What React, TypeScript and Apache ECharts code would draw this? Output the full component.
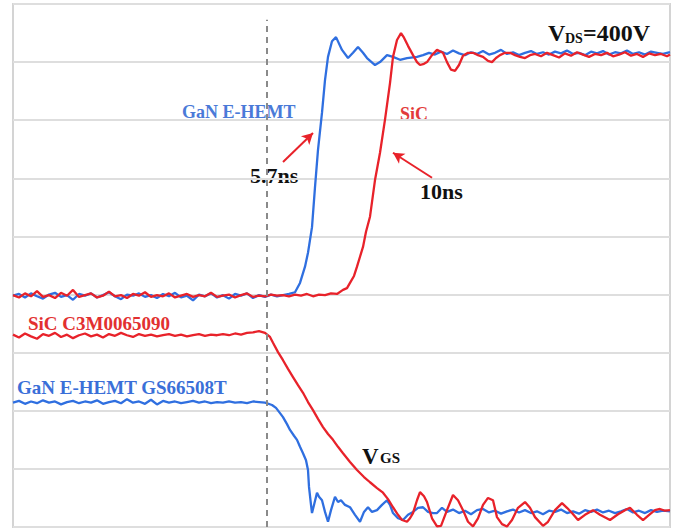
import { useEffect, useRef } from "react";
import * as echarts from "echarts";

type Pt = [number, number];

// x: time (ns), y: scope divisions (0 = bottom, 9 = top)
const X_MAX = 164.25;
const Y_DIVS = 9;
const CURSOR_T = 63.5;

// ---------- V_DS, GaN E-HEMT (blue) ----------
const ganVdsLow: Pt[] = [
  [0, 3.98], [1.5, 4.01], [3, 3.95], [4.5, 4.02], [6, 3.97], [7.5, 3.93], [9, 4.0], [10.5, 4.03],
  [12, 3.96], [13.5, 3.99], [15, 3.91], [16.5, 4.01], [18, 3.98], [19.5, 4.02], [21, 3.95], [22.5, 3.99],
  [24, 4.04], [25.5, 3.97], [27, 3.92], [28.5, 4.0], [30, 3.98], [31.5, 4.02], [33, 3.96], [34.5, 3.99],
  [36, 3.94], [37.5, 4.01], [39, 3.97], [40.5, 4.03], [42, 3.95], [43.5, 3.98], [45, 3.9], [46.5, 4.0],
  [48, 3.97], [49.5, 4.02], [51, 3.95], [52.5, 3.99], [54, 3.93], [55.5, 4.01], [57, 3.98], [58.5, 4.02],
  [60, 3.94], [61.5, 3.99], [63, 3.96], [64.5, 4.0], [66, 3.97], [67.5, 3.99], [69, 4.01],
];
const ganVdsEdge: Pt[] = [
  [70.5, 4.04], [71.75, 4.2], [73, 4.48], [73.75, 4.72], [74.75, 5.16], [75.5, 5.85], [76.25, 6.49],
  [77.25, 7.13], [78, 7.69], [78.75, 8.09], [79.75, 8.36], [80.75, 8.43], [82.25, 8.21], [83.75, 8.07],
  [85, 8.16], [86.25, 8.26], [87.5, 8.16], [88.5, 8.07], [90.5, 7.95], [91.75, 8.0], [93.5, 8.12],
  [95, 8.09], [96.75, 8.04], [98.5, 8.07], [101, 8.09],
];
const ganVdsHigh: Pt[] = [
  [102.5, 8.12], [104, 8.16], [105.5, 8.13], [107, 8.18], [108.5, 8.14], [110, 8.2], [111.5, 8.15],
  [113, 8.12], [114.5, 8.17], [116, 8.14], [117.5, 8.19], [119, 8.13], [120.5, 8.16], [122, 8.21],
  [123.5, 8.14], [125, 8.17], [126.5, 8.12], [128, 8.16], [129.5, 8.19], [131, 8.14], [132.5, 8.17],
  [134, 8.13], [135.5, 8.18], [137, 8.15], [138.5, 8.2], [140, 8.14], [141.5, 8.16], [143, 8.12],
  [144.5, 8.18], [146, 8.15], [147.5, 8.19], [149, 8.13], [150.5, 8.17], [152, 8.15], [153.5, 8.2],
  [155, 8.14], [156.5, 8.17], [158, 8.13], [159.5, 8.18], [161, 8.16], [162.5, 8.14], [164.25, 8.17],
];

// ---------- V_DS, SiC (red) ----------
const sicVdsLow: Pt[] = [
  [0, 3.99], [1.5, 3.95], [3, 4.02], [4.5, 3.97], [6, 4.06], [7.5, 3.96], [9, 3.99], [10.5, 3.94],
  [12, 4.03], [13.5, 3.98], [15, 4.08], [16.5, 3.96], [18, 3.99], [19.5, 4.02], [21, 3.95], [22.5, 3.98],
  [24, 4.05], [25.5, 3.97], [27, 3.99], [28.5, 3.94], [30, 4.01], [31.5, 3.98], [33, 4.04], [34.5, 3.96],
  [36, 3.99], [37.5, 3.97], [39, 4.02], [40.5, 3.95], [42, 3.98], [43.5, 4.01], [45, 3.96], [46.5, 3.99],
  [48, 3.97], [49.5, 4.03], [51, 3.96], [52.5, 3.98], [54, 4.0], [55.5, 3.95], [57, 3.99], [58.5, 4.02],
  [60, 3.96], [61.5, 3.98], [63, 3.97], [64.5, 4.0], [66, 3.98], [67.5, 3.99], [69, 3.97], [70.5, 4.0],
  [72, 3.98], [73.5, 4.01], [75, 3.97], [76.5, 4.0], [78, 3.99], [79.5, 4.02],
];
const sicVdsEdge: Pt[] = [
  [81, 4.01], [82.5, 4.08], [83.5, 4.11], [84.25, 4.2], [85.25, 4.32], [86, 4.48], [86.75, 4.65],
  [87.5, 4.82], [88.25, 5.08], [89.25, 5.34], [90.5, 5.97], [91.75, 6.44], [93, 7.01], [94.25, 7.64],
  [95, 8.09], [96, 8.38], [97, 8.5], [97.75, 8.42], [98.75, 8.28], [100, 8.12], [101, 8.0],
  [101.75, 7.95], [102.75, 7.97], [103.5, 8.0], [104.75, 8.12], [106, 8.21], [107.5, 8.16], [108.5, 8.0],
  [109.5, 7.87], [110.5, 7.85], [111.5, 7.95], [112.5, 8.11], [113.75, 8.16], [115, 8.16], [116.25, 8.12],
  [117.5, 8.09], [118.75, 8.02], [119.75, 8.0], [120.75, 8.07], [121.75, 8.12], [123, 8.16], [124.25, 8.16],
  [125.5, 8.12], [126.75, 8.09], [128, 8.07], [129.25, 8.12],
];
const sicVdsHigh: Pt[] = [
  [130.5, 8.14], [132, 8.1], [133.5, 8.16], [135, 8.12], [136.5, 8.08], [138, 8.15], [139.5, 8.11],
  [141, 8.17], [142.5, 8.13], [144, 8.09], [145.5, 8.14], [147, 8.12], [148.5, 8.16], [150, 8.1],
  [151.5, 8.13], [153, 8.17], [154.5, 8.11], [156, 8.14], [157.5, 8.09], [159, 8.15], [160.5, 8.12],
  [162, 8.14], [163.5, 8.1], [164.25, 8.13],
];

// ---------- V_GS, SiC C3M0065090 (red) ----------
const sicVgsHigh: Pt[] = [
  [0, 3.31], [1.5, 3.26], [3, 3.33], [4.5, 3.28], [6, 3.24], [7.5, 3.32], [9, 3.29], [10.5, 3.34],
  [12, 3.27], [13.5, 3.31], [15, 3.25], [16.5, 3.3], [18, 3.33], [19.5, 3.28], [21, 3.31], [22.5, 3.26],
  [24, 3.32], [25.5, 3.29], [27, 3.34], [28.5, 3.3], [30, 3.27], [31.5, 3.32], [33, 3.29], [34.5, 3.31],
  [36, 3.28], [37.5, 3.3], [39, 3.32], [40.5, 3.29], [42, 3.31], [43.5, 3.28], [45, 3.3], [46.5, 3.32],
  [48, 3.29], [49.5, 3.31], [51, 3.3], [52.5, 3.32], [54, 3.3], [55.5, 3.33], [57, 3.31], [58.5, 3.34],
  [60, 3.35], [61.5, 3.37], [63, 3.34],
];
const sicVgsFall: Pt[] = [
  [64.25, 3.27], [65, 3.17], [66.25, 3.01], [67.5, 2.87], [68.75, 2.72], [70, 2.58], [71.25, 2.44],
  [72.5, 2.31], [73.75, 2.15], [75, 2.01], [76.25, 1.86], [77.5, 1.72], [78.75, 1.6], [80, 1.5],
  [81.25, 1.38], [82.5, 1.27], [84.25, 1.12], [86, 0.98], [87.75, 0.86], [89.25, 0.77], [91, 0.67],
  [92.5, 0.59], [93.75, 0.48], [95, 0.34], [96.25, 0.21], [97.25, 0.12], [98.5, 0.09], [99.25, 0.15],
  [100, 0.24], [101, 0.46], [101.75, 0.6], [102.75, 0.53], [103.5, 0.43], [104.75, 0.15], [106, 0.01],
  [107, 0.02], [108.5, 0.29], [110, 0.55], [111.25, 0.46], [112.5, 0.29], [113.75, 0.09], [115, 0.01],
  [116.25, 0.15], [117.5, 0.38], [118.75, 0.5], [120, 0.46], [121, 0.17], [122.25, 0.05], [123.5, 0.01],
  [124.75, 0.12], [126.25, 0.33], [128, 0.43], [129.25, 0.33], [130.5, 0.17], [132.5, 0.02], [133.75, 0.09],
  [135.5, 0.29], [137.25, 0.41], [138.5, 0.33], [139.75, 0.24], [141.25, 0.12], [143, 0.21], [145, 0.29],
  [146.75, 0.21], [149.25, 0.12], [151.25, 0.22], [153, 0.29], [154.25, 0.33], [156, 0.21], [157.5, 0.12],
  [159.25, 0.22], [160.5, 0.29], [161.75, 0.31], [163, 0.28], [164.25, 0.29],
];

// ---------- V_GS, GaN E-HEMT GS66508T (blue) ----------
const ganVgsHigh: Pt[] = [
  [0, 2.14], [1.5, 2.17], [3, 2.12], [4.5, 2.16], [6, 2.13], [7.5, 2.18], [9, 2.14], [10.5, 2.16],
  [12, 2.11], [13.5, 2.15], [15, 2.17], [16.5, 2.13], [18, 2.16], [19.5, 2.14], [21, 2.18], [22.5, 2.12],
  [24, 2.15], [25.5, 2.17], [27, 2.13], [28.5, 2.2], [30, 2.14], [31.5, 2.16], [33, 2.12], [34.5, 2.19],
  [36, 2.11], [37.5, 2.17], [39, 2.14], [40.5, 2.16], [42, 2.13], [43.5, 2.15], [45, 2.17], [46.5, 2.14],
  [48, 2.16], [49.5, 2.13], [51, 2.15], [52.5, 2.14], [54, 2.16], [55.5, 2.14], [57, 2.15], [58.5, 2.13],
  [60, 2.16], [61.5, 2.15], [63, 2.14],
];
const ganVgsFall: Pt[] = [
  [64.75, 2.1], [65.75, 2.05], [66.75, 1.96], [67.5, 1.89], [68.5, 1.77], [69.25, 1.67], [70.25, 1.57],
  [71, 1.5], [71.75, 1.38], [72.5, 1.27], [73.25, 1.15], [73.75, 0.98], [74, 0.69], [74.5, 0.38],
  [74.75, 0.24], [75.25, 0.38], [76, 0.59], [76.5, 0.52], [77.25, 0.46], [78, 0.26], [78.75, 0.09],
  [79.5, 0.29], [80.5, 0.52], [81.25, 0.43], [82, 0.46], [83, 0.38], [84.25, 0.34], [85.5, 0.21],
  [86.75, 0.09], [87.75, 0.26], [88.75, 0.34], [89.75, 0.26], [91, 0.29], [92.25, 0.38], [93.5, 0.46],
  [94.25, 0.38], [95, 0.24], [96.25, 0.15], [97.5, 0.12], [98.75, 0.21], [100, 0.26], [101.25, 0.33],
  [102.5, 0.34], [103.75, 0.26], [105, 0.24], [106, 0.24], [107.25, 0.33], [108.5, 0.26],
];
const ganVgsTail: Pt[] = [
  [110, 0.3], [111.5, 0.24], [113, 0.28], [114.5, 0.22], [116, 0.29], [117.5, 0.31], [119, 0.25],
  [120.5, 0.28], [122, 0.23], [123.5, 0.27], [125, 0.3], [126.5, 0.25], [128, 0.29], [129.5, 0.24],
  [131, 0.27], [132.5, 0.22], [134, 0.28], [135.5, 0.26], [137, 0.3], [138.5, 0.24], [140, 0.27],
  [141.5, 0.23], [143, 0.29], [144.5, 0.26], [146, 0.3], [147.5, 0.25], [149, 0.28], [150.5, 0.24],
  [152, 0.27], [153.5, 0.31], [155, 0.25], [156.5, 0.28], [158, 0.24], [159.5, 0.29], [161, 0.26],
  [162.5, 0.28], [164.25, 0.27],
];

// annotation arrows (tail -> head), in data units
const arrowGaN: Pt[] = [[67.5, 6.28], [75, 6.78]];
const arrowSiC: Pt[] = [[104.75, 6.01], [95, 6.44]];

const BLUE = "#2f6fe0";
const RED = "#e8222a";
const SERIF = "'Liberation Serif', 'Times New Roman', serif";
const LW = 2.3;

export default function App() {
  const ref = useRef<HTMLDivElement>(null);

  useEffect(() => {
    if (!ref.current) return;
    const chart = echarts.init(ref.current, undefined, { renderer: "svg" });

    const txt = (text: string, x: number, y: number, size: number, fill: string) => ({
      type: "text",
      x,
      y,
      silent: true,
      style: {
        text,
        fill,
        font: `bold ${size}px ${SERIF}`,
        textAlign: "left",
        textVerticalAlign: "middle",
      },
    });

    chart.setOption({
      animation: false,
      backgroundColor: "#ffffff",
      grid: {
        left: 13,
        right: 12,
        top: 4,
        bottom: 4,
        show: true,
        borderColor: "#d4d4d4",
        borderWidth: 2,
      },
      xAxis: {
        type: "value",
        min: 0,
        max: X_MAX,
        axisLine: { show: false },
        axisTick: { show: false },
        axisLabel: { show: false },
        splitLine: { show: false },
      },
      yAxis: {
        type: "value",
        min: 0,
        max: Y_DIVS,
        interval: 1,
        axisLine: { show: false },
        axisTick: { show: false },
        axisLabel: { show: false },
        splitLine: { show: true, lineStyle: { color: "#dedede", width: 2 } },
      },
      series: [
        {
          name: "GaN V_DS",
          type: "line",
          showSymbol: false,
          data: [...ganVdsLow, ...ganVdsEdge, ...ganVdsHigh],
          lineStyle: { color: BLUE, width: LW },
          itemStyle: { color: BLUE },
          markLine: {
            silent: true,
            symbol: ["none", "none"],
            label: { show: false },
            lineStyle: { color: "#8a8a8a", width: 2, type: [6, 5] },
            data: [[{ coord: [CURSOR_T, 0] }, { coord: [CURSOR_T, 8.73] }]],
          },
        },
        {
          name: "GaN V_GS",
          type: "line",
          showSymbol: false,
          data: [...ganVgsHigh, ...ganVgsFall, ...ganVgsTail],
          lineStyle: { color: BLUE, width: LW },
          itemStyle: { color: BLUE },
        },
        {
          name: "SiC V_DS",
          type: "line",
          showSymbol: false,
          data: [...sicVdsLow, ...sicVdsEdge, ...sicVdsHigh],
          lineStyle: { color: RED, width: LW },
          itemStyle: { color: RED },
          markLine: {
            silent: true,
            symbol: ["none", "arrow"],
            symbolSize: [9, 11],
            label: { show: false },
            lineStyle: { color: RED, width: 2, type: "solid" },
            data: [
              [{ coord: arrowGaN[0] }, { coord: arrowGaN[1] }],
              [{ coord: arrowSiC[0] }, { coord: arrowSiC[1] }],
            ],
          },
        },
        {
          name: "SiC V_GS",
          type: "line",
          showSymbol: false,
          data: [...sicVgsHigh, ...sicVgsFall],
          lineStyle: { color: RED, width: LW },
          itemStyle: { color: RED },
        },
      ],
      graphic: [
        txt("GaN E-HEMT", 182, 112, 18, "#4a7ad8"),
        txt("SiC", 400, 114, 18, "#e23a3a"),
        txt("5.7ns", 250, 175, 22, "#111111"),
        txt("10ns", 420, 191, 22, "#111111"),
        txt("SiC C3M0065090", 28, 323, 19, "#e23030"),
        txt("GaN E-HEMT GS66508T", 17, 387, 19, "#3a6fd8"),
        txt("V", 548, 33, 24, "#111111"),
        txt("DS", 565, 38, 14, "#111111"),
        txt("=400V", 583, 33, 24, "#111111"),
        txt("V", 362, 456, 23, "#111111"),
        txt("GS", 380, 458, 15, "#111111"),
      ],
    });

    return () => chart.dispose();
  }, []);

  return (
    <div
      ref={ref}
      style={{ position: "absolute", left: 0, top: 0, width: 682, height: 531, background: "#fff" }}
    />
  );
}
